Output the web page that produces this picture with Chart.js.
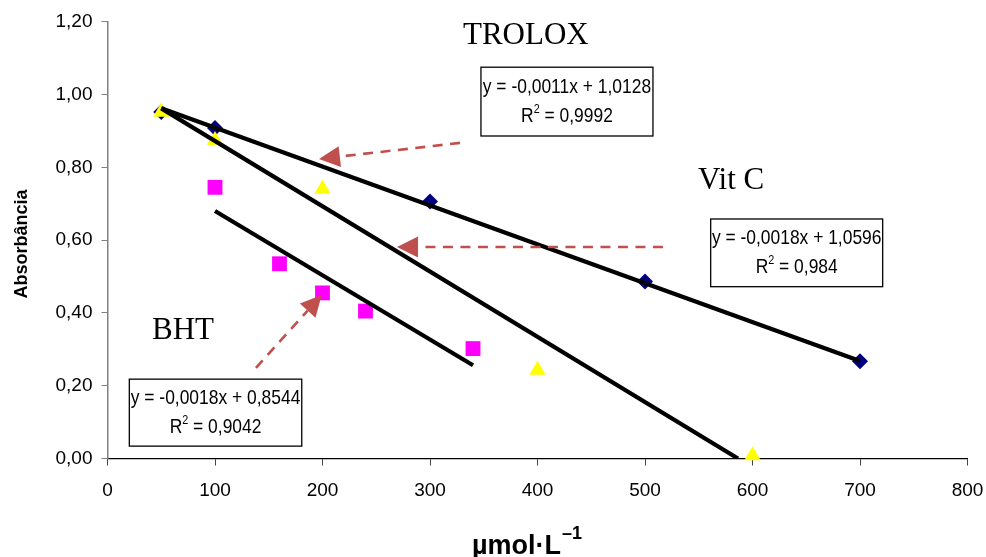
<!DOCTYPE html>
<html><head><meta charset="utf-8">
<script src="https://cdn.jsdelivr.net/npm/chart.js@4.4.1/dist/chart.umd.min.js"></script>
<style>html,body{margin:0;padding:0;background:#fff;}#wrap{width:986px;height:557px;}</style>
</head><body><div id="wrap"><canvas id="c" width="986" height="557"></canvas></div>
<script>
// ---- data ----
const troloxX = [50, 100, 300, 500, 700];
const troloxY = [0.952, 0.908, 0.706, 0.486, 0.267];
const vitcX = [50, 100, 200, 400, 600];
const vitcY = [0.952, 0.874, 0.740, 0.243, 0.008];
const bhtX = [100, 160, 200, 240, 340];
const bhtY = [0.745, 0.535, 0.455, 0.405, 0.302];
const troloxFitX = [50, 700];
const troloxFitY = [0.962, 0.268];
const vitcFitX = [50, 586.5];
const vitcFitY = [0.962, 0];
const bhtFitX = [100, 340];
const bhtFitY = [0.680, 0.256];
const xTicks = [0, 100, 200, 300, 400, 500, 600, 700, 800];
const yTicks = [0, 0.2, 0.4, 0.6, 0.8, 1.0, 1.2];
const seriesNames = ['TROLOX', 'Vit C', 'BHT'];
const equations = ['y = -0,0011x + 1,0128', 'y = -0,0018x + 1,0596', 'y = -0,0018x + 0,8544'];
const r2Values = ['0,9992', '0,984', '0,9042'];
const yTitle = 'Absorbância';
const xTitle = 'µmol·L';
const xTitleSup = '–1';

// ---- annotation placement (data units) ----
const nameAt = [[330.7, 1.139], [549.3, 0.740], [41.4, 0.328]];
const boxAt = [[347.4, 1.075, 507.4, 0.886], [561.1, 0.658, 721.1, 0.472], [20.3, 0.218, 180.7, 0.034]];
const arrowAt = [[327.9, 0.867, 196.7, 0.823], [516.7, 0.581, 269.3, 0.581], [138.1, 0.249, 199.3, 0.449]];

const pts = (xs, ys) => xs.map((x, i) => ({x: x, y: ys[i]}));
const SANS = '"Liberation Sans", Arial, sans-serif';

const annot = {
  id: 'annot',
  afterDatasetsDraw(chart) {
    const ctx = chart.ctx, xs = chart.scales.x, ys = chart.scales.y;
    const px = v => xs.getPixelForValue(v), py = v => ys.getPixelForValue(v);
    ctx.save();
    arrowAt.forEach(a => {
      const x1 = px(a[0]), y1 = py(a[1]), x2 = px(a[2]), y2 = py(a[3]);
      const ang = Math.atan2(y2 - y1, x2 - x1);
      const L = 21, H = 10.5;
      const bx = x2 - Math.cos(ang) * L, by = y2 - Math.sin(ang) * L;
      ctx.strokeStyle = '#C0504D'; ctx.fillStyle = '#C0504D';
      ctx.lineWidth = 2.6; ctx.setLineDash([10, 7.5]);
      ctx.beginPath(); ctx.moveTo(x1, y1); ctx.lineTo(bx, by); ctx.stroke();
      ctx.setLineDash([]);
      ctx.beginPath();
      ctx.moveTo(x2, y2);
      ctx.lineTo(bx + Math.sin(ang) * H, by - Math.cos(ang) * H);
      ctx.lineTo(bx - Math.sin(ang) * H, by + Math.cos(ang) * H);
      ctx.closePath(); ctx.fill();
    });
    ctx.fillStyle = '#000';
    ctx.font = '31px "Liberation Serif", "Times New Roman", serif';
    ctx.textAlign = 'left'; ctx.textBaseline = 'alphabetic';
    seriesNames.forEach((n, i) => ctx.fillText(n, px(nameAt[i][0]), py(nameAt[i][1])));
    boxAt.forEach((b, i) => {
      const x1 = px(b[0]), y1 = py(b[1]), x2 = px(b[2]), y2 = py(b[3]);
      ctx.fillStyle = '#fff'; ctx.fillRect(x1, y1, x2 - x1, y2 - y1);
      ctx.strokeStyle = '#000'; ctx.lineWidth = 1.3;
      ctx.strokeRect(x1, y1, x2 - x1, y2 - y1);
      const cx = (x1 + x2) / 2, h = y2 - y1;
      const sx = 0.83;
      const big = '21px ' + SANS, small = '13px ' + SANS;
      ctx.fillStyle = '#000';
      ctx.font = big;
      ctx.textAlign = 'left';
      let w = ctx.measureText(equations[i]).width;
      ctx.save(); ctx.translate(cx, y1 + h * 0.37); ctx.scale(sx, 1);
      ctx.fillText(equations[i], -w / 2, 0); ctx.restore();
      const wR = ctx.measureText('R').width;
      ctx.font = small;
      const w2 = ctx.measureText('2').width;
      ctx.font = big;
      const rest = ' = ' + r2Values[i];
      const wRest = ctx.measureText(rest).width;
      const tot = wR + w2 + wRest;
      ctx.save(); ctx.translate(cx, y1 + h * 0.8); ctx.scale(sx, 1);
      let xx = -tot / 2;
      ctx.fillText('R', xx, 0); xx += wR;
      ctx.font = small;
      ctx.fillText('2', xx, -9); xx += w2;
      ctx.font = big;
      ctx.fillText(rest, xx, 0);
      ctx.restore();
    });
    ctx.restore();
  },
  afterDraw(chart) {
    const ctx = chart.ctx;
    ctx.save();
    ctx.fillStyle = '#000';
    ctx.font = 'bold 18px ' + SANS;
    ctx.textAlign = 'center'; ctx.textBaseline = 'alphabetic';
    ctx.translate(27, 244); ctx.rotate(-Math.PI / 2);
    ctx.fillText(yTitle, 0, 0);
    ctx.restore();
    ctx.save();
    ctx.fillStyle = '#000';
    ctx.font = 'bold 27px ' + SANS;
    ctx.textAlign = 'left'; ctx.textBaseline = 'alphabetic';
    const w = ctx.measureText(xTitle).width;
    const x0 = 472;
    ctx.fillText(xTitle, x0, 554);
    ctx.font = 'bold 18px ' + SANS;
    ctx.fillText(xTitleSup, x0 + w + 1, 539);
    ctx.restore();
  }
};

const tickFont = {family: '"Liberation Sans", Arial, sans-serif', size: 19};

new Chart(document.getElementById('c'), {
  type: 'scatter',
  data: {
    datasets: [
      {data: pts(troloxFitX, troloxFitY), showLine: true, borderColor: '#000', borderWidth: 4.2, pointRadius: 0, fill: false},
      {data: pts(vitcFitX, vitcFitY), showLine: true, borderColor: '#000', borderWidth: 4.2, pointRadius: 0, fill: false},
      {data: pts(bhtFitX, bhtFitY), showLine: true, borderColor: '#000', borderWidth: 4.2, pointRadius: 0, fill: false},
      {data: pts(vitcX, vitcY), pointStyle: 'triangle', pointRadius: 9.4, backgroundColor: '#FFFF00', borderColor: '#FFFF00', borderWidth: 0, clip: false},
      {data: pts(troloxX, troloxY), pointStyle: 'rectRot', pointRadius: 8, backgroundColor: '#000080', borderColor: '#000080', borderWidth: 0, clip: false},
      {data: pts(bhtX, bhtY), pointStyle: 'rect', pointRadius: 10.5, backgroundColor: '#FF00FF', borderColor: '#FF00FF', borderWidth: 0, clip: false}
    ]
  },
  options: {
    responsive: false, animation: false, devicePixelRatio: 1,
    layout: {padding: {left: 0, right: 18.5, top: 21.7, bottom: 0}},
    plugins: {legend: {display: false}, tooltip: {enabled: false}},
    scales: {
      x: {
        type: 'linear', min: 0, max: 800,
        afterBuildTicks: s => { s.ticks = xTicks.map(v => ({value: v})); },
        afterFit: s => { s.height = 98.5; s.paddingLeft = 0; s.paddingRight = 0; },
        grid: {drawOnChartArea: false, drawTicks: true, tickLength: 7, color: '#444'},
        border: {display: true, color: '#000', width: 1.3},
        ticks: {font: tickFont, color: '#000', padding: 14, maxRotation: 0, callback: v => String(v)}
      },
      y: {
        type: 'linear', min: 0, max: 1.2,
        afterBuildTicks: s => { s.ticks = yTicks.map(v => ({value: v})); },
        afterFit: s => { s.width = 107.5; s.paddingTop = 0; s.paddingBottom = 0; },
        grid: {drawOnChartArea: false, drawTicks: true, tickLength: 6, color: '#808080'},
        border: {display: true, color: '#808080', width: 1.5},
        ticks: {font: tickFont, color: '#000', padding: 9, callback: v => v.toFixed(2).replace('.', ',')}
      }
    }
  },
  plugins: [annot]
});
</script>
</body></html>
